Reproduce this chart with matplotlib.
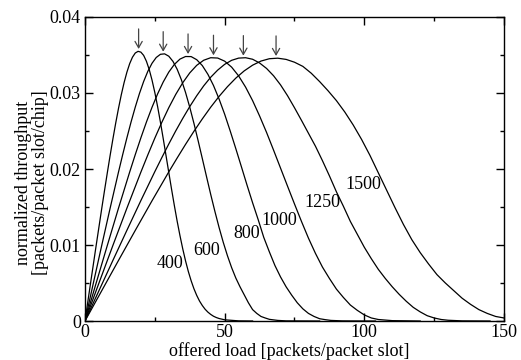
import matplotlib
matplotlib.use('Agg')
import matplotlib.pyplot as plt
from matplotlib.ticker import MultipleLocator, FuncFormatter

plt.rcParams['font.family'] = ['Liberation Serif', 'DejaVu Serif']
plt.rcParams['font.size'] = 13

# spreading factor (chips) of each curve
chips = ['400', '600', '800', '1000', '1250', '1500']

load_400 = [0, 2, 4, 6, 7, 8, 9, 10, 11, 12, 13, 14, 15, 16, 17, 18, 19, 20,
            21, 22, 23, 24, 25, 26, 27, 28, 29, 30, 31, 32, 33, 34, 35, 36, 37,
            38, 39, 40, 41, 42, 43, 44, 45, 46, 47, 48, 50, 55, 60]
tput_400 = [0, .00498, .00993, .0148, .01718, .01951, .02178, .02396, .02604,
            .02798, .02977, .03136, .03273, .03386, .03471, .03526, .03548,
            .03538, .03495, .03417, .03308, .0317, .03007, .02821, .02618,
            .02402, .02179, .01955, .01733, .01518, .01313, .01124, .00949,
            .00791, .00651, .0053, .00425, .00337, .00263, .00204, .00155,
            .00117, .00087, .00063, .00046, .00033, .00016, .00002, 0]

load_600 = [0, 3, 6, 9, 12, 13.5, 15, 16.5, 18, 19.5, 21, 22.5, 24, 25.5, 27,
            28.5, 30, 31.5, 33, 34.5, 36, 37.5, 39, 40.5, 42, 43.5, 45, 46.5,
            48, 49.5, 51, 52.5, 54, 55.5, 57, 58.5, 60, 61.5, 63, 64.5, 66, 69,
            72, 78, 84]
tput_600 = [0, .00499, .00995, .01484, .0196, .02189, .02409, .02619, .02814,
            .02993, .03151, .03285, .03391, .03467, .03509, .03515, .03484,
            .03416, .03312, .03175, .03007, .02814, .02601, .02373, .02138,
            .01901, .01667, .01443, .01231, .01035, .00859, .00702, .00565,
            .0045, .00345, .0024, .0015, .001, .0006, .0004, .00022, .00008,
            .00002, .00001, 0]

load_800 = [0, 4, 8, 12, 16, 18, 20, 22, 24, 26, 28, 30, 32, 34, 36, 38, 40,
            42, 44, 46, 48, 50, 52, 54, 56, 58, 60, 62, 64, 66, 68, 70, 72, 74,
            76, 78, 80, 82, 84, 86, 88, 92, 96, 104]
tput_800 = [0, .00499, .00995, .01485, .0196, .02189, .02409, .02618, .02812,
            .02988, .03144, .03275, .03376, .03446, .0348, .03479, .03438,
            .03361, .03246, .03099, .02921, .02721, .02499, .02267, .02029,
            .01789, .01556, .01334, .0110, .0091, .0073, .0058, .0045, .0034,
            .0024, .0016, .0010, .0006, .0003, .00018, .00008, .00002, .00001,
            0]

load_1000 = [0, 5, 10, 15, 20, 22.5, 25, 27.5, 30, 32.5, 35, 37.5, 40, 42.5,
             45, 47.5, 50, 52.5, 55, 57.5, 60, 62.5, 65, 67.5, 70, 72.5, 75,
             77.5, 80, 82.5, 85, 87.5, 90, 92.5, 95, 97.5, 100, 102.5, 105,
             110, 120]
tput_1000 = [0, .00499, .00995, .01484, .01958, .02186, .02406, .02613,
             .02807, .02982, .03135, .03264, .03364, .03431, .03464, .0346,
             .03419, .0334, .03225, .03077, .029, .02698, .02481, .02249,
             .02012, .01775, .0154, .0131, .0109, .0089, .0071, .0056, .0042,
             .0031, .0021, .0014, .0008, .0004, .0002, .00005, 0]

load_1250 = [0, 5, 10, 15, 20, 25, 27.5, 30, 32.5, 35, 37.5, 40, 42.5, 45,
             47.5, 50, 52.5, 55, 57.5, 60, 62.5, 65, 67.5, 70, 72.5, 75, 77.5,
             80, 82.5, 85, 87.5, 90, 92.5, 95, 97.5, 100, 102.5, 105, 107.5,
             110, 112.5, 115, 117.5, 120, 122.5, 125, 127.5, 130, 135, 145]
tput_1250 = [0, .00399, .00798, .01193, .01584, .01965, .02149, .02329,
             .02502, .02666, .02821, .02964, .03094, .03207, .03301, .03377,
             .0343, .03459, .03464, .03444, .03395, .03323, .03227, .03107,
             .02965, .02806, .0264, .0247, .0230, .0211, .0191, .0170, .0151,
             .0131, .0114, .0097, .0082, .0068, .0056, .0045, .0035, .0026,
             .0018, .0012, .0007, .0004, .0002, .0001, .00002, 0]

load_1500 = [0, 6, 12, 18, 24, 30, 33, 36, 39, 42, 45, 48, 51, 54, 57, 60, 63,
             66, 69, 72, 75, 78, 81, 84, 87, 90, 93, 96, 99, 102, 105, 108,
             111, 114, 117, 120, 123, 126, 129, 132, 135, 138, 141, 144, 147,
             150]
tput_1500 = [0, .00399, .00797, .01192, .01582, .01962, .02145, .02324,
             .02496, .02659, .02813, .02955, .03083, .03196, .03291, .03366,
             .0342, .03451, .03458, .03442, .03405, .0335, .0326, .0315,
             .0303, .0290, .0275, .0258, .0239, .0218, .0195, .0172, .0149,
             .0127, .0107, .0090, .0075, .0061, .0050, .0040, .0030, .0022,
             .0015, .0010, .0006, .0004]

# maximum throughput of each curve (marked by arrows)
peak_load = [19.2, 28.0, 36.9, 46.0, 56.7, 68.4]
peak_tput = [0.03553, 0.03517, 0.03487, 0.0347, 0.03465, 0.03461]

curves = [(load_400, tput_400), (load_600, tput_600), (load_800, tput_800),
          (load_1000, tput_1000), (load_1250, tput_1250),
          (load_1500, tput_1500)]

fig = plt.figure(figsize=(5.21, 3.6), dpi=100)
ax = fig.add_axes([0.1631, 0.1083, 0.8043, 0.8445])

for xs, ys in curves:
    ax.plot(xs, ys, color='black', lw=0.9)

for px, py in zip(peak_load, peak_tput):
    ax.annotate('', xy=(px, py + 0.00026), xytext=(px, py + 0.0029),
                arrowprops=dict(arrowstyle='->,head_length=0.35,head_width=0.2',
                                color='#444444', lw=0.9,
                                shrinkA=0, shrinkB=0))

# label anchors (centre x, baseline y) next to each curve
label_pos = [(30.3, 0.00697), (43.7, 0.00868), (57.8, 0.01088),
             (69.6, 0.01263), (85.0, 0.01504), (99.6, 0.01733)]
for lab, (lx, ly) in zip(chips, label_pos):
    ax.text(lx, ly, lab, ha='center', va='baseline', fontsize=13)

ax.set_xlim(0, 150)
ax.set_ylim(0, 0.04)
ax.xaxis.set_major_locator(MultipleLocator(50))
ax.xaxis.set_minor_locator(MultipleLocator(25))
ax.yaxis.set_major_locator(MultipleLocator(0.01))
ax.yaxis.set_minor_locator(MultipleLocator(0.005))
ax.xaxis.set_major_formatter(FuncFormatter(lambda v, p: '%g' % v))
ax.yaxis.set_major_formatter(
    FuncFormatter(lambda v, p: '0' if abs(v) < 1e-9 else '%.2f' % v))
ax.tick_params(which='both', direction='in', top=True, right=True,
               width=1, labelsize=13)
ax.tick_params(which='major', length=6)
ax.tick_params(which='minor', length=3)
ax.tick_params(axis='x', pad=2)
ax.tick_params(axis='y', pad=3)
for s in ax.spines.values():
    s.set_linewidth(1)

ax.set_xlabel('offered load [packets/packet slot]', fontsize=13)
ax.xaxis.set_label_coords(0.487, -0.071)
ax.set_ylabel('normalized throughput\n[packets/packet slot/chip]',
              fontsize=13, linespacing=1.0)
ax.yaxis.set_label_coords(-0.085, 0.455)

fig.savefig('out.png', dpi=100)
